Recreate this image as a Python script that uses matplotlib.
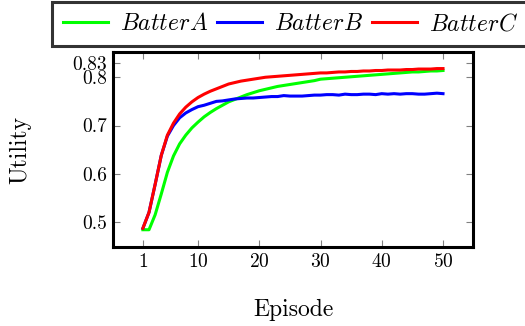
import matplotlib
matplotlib.use("Agg")
import matplotlib.pyplot as plt

plt.rcParams['font.family'] = 'serif'
plt.rcParams['font.serif'] = ['cmr10']
plt.rcParams['mathtext.fontset'] = 'cm'
plt.rcParams['axes.formatter.use_mathtext'] = True

# Episodes 1..50
episodes = list(range(1, 51))

batter_a = [0.484, 0.484, 0.515, 0.558, 0.603, 0.637, 0.662, 0.680, 0.695, 0.707,
            0.718, 0.727, 0.735, 0.742, 0.749, 0.754, 0.759, 0.764, 0.768, 0.772,
            0.775, 0.778, 0.781, 0.783, 0.785, 0.787, 0.789, 0.791, 0.793, 0.796,
            0.797, 0.798, 0.799, 0.800, 0.801, 0.802, 0.803, 0.804, 0.805, 0.806,
            0.807, 0.808, 0.809, 0.810, 0.811, 0.811, 0.812, 0.813, 0.813, 0.814]

batter_b = [0.487, 0.520, 0.578, 0.638, 0.678, 0.700, 0.716, 0.726, 0.733, 0.739,
            0.742, 0.746, 0.750, 0.751, 0.753, 0.755, 0.756, 0.757, 0.757, 0.758,
            0.759, 0.760, 0.760, 0.762, 0.761, 0.761, 0.761, 0.762, 0.763, 0.763,
            0.764, 0.764, 0.763, 0.765, 0.764, 0.764, 0.765, 0.765, 0.764, 0.766,
            0.765, 0.766, 0.765, 0.766, 0.766, 0.765, 0.765, 0.766, 0.767, 0.766]

batter_c = [0.487, 0.520, 0.578, 0.638, 0.680, 0.705, 0.724, 0.738, 0.749, 0.758,
            0.765, 0.771, 0.776, 0.781, 0.786, 0.789, 0.792, 0.794, 0.796, 0.798,
            0.800, 0.801, 0.802, 0.803, 0.804, 0.805, 0.806, 0.807, 0.808, 0.809,
            0.809, 0.810, 0.811, 0.811, 0.812, 0.812, 0.813, 0.813, 0.814, 0.814,
            0.815, 0.815, 0.815, 0.816, 0.816, 0.817, 0.817, 0.817, 0.818, 0.818]

x_ticks = [1, 10, 20, 30, 40, 50]
y_ticks = [0.5, 0.6, 0.7, 0.8, 0.83]
y_tick_labels = ["0.5", "0.6", "0.7", "0.8", "0.83"]

fig = plt.figure(figsize=(5.25, 3.26), dpi=100)
ax = fig.add_axes([0.215, 0.242, 0.686, 0.598])

ax.plot(episodes, batter_a, color=(0, 1, 0), lw=2.2, label=r'$Batter A$')
ax.plot(episodes, batter_b, color=(0, 0, 1), lw=2.2, label=r'$Batter B$')
ax.plot(episodes, batter_c, color=(1, 0, 0), lw=2.2, label=r'$Batter C$')

ax.set_xlim(-3.9, 54.9)
ax.set_ylim(0.448, 0.852)
ax.set_xticks(x_ticks)
ax.set_yticks(y_ticks)
ax.set_yticklabels(y_tick_labels)
ax.tick_params(direction='in', top=True, right=True, color='gray', width=0.8,
               length=5, labelsize=14, pad=4)

for s in ax.spines.values():
    s.set_linewidth(2.2)
    s.set_color('black')

ax.set_xlabel('Episode', fontsize=17, labelpad=20)
ax.set_ylabel('Utility', fontsize=17, labelpad=30)

leg = fig.legend(loc='center', bbox_to_anchor=(0.553, 0.926), ncol=3,
                 fontsize=17, frameon=True, fancybox=False, edgecolor='black',
                 handlelength=1.9, columnspacing=0.4, handletextpad=0.5,
                 borderpad=0.45, borderaxespad=0)
leg.get_frame().set_linewidth(2.2)

fig.savefig('out.png', dpi=100)
